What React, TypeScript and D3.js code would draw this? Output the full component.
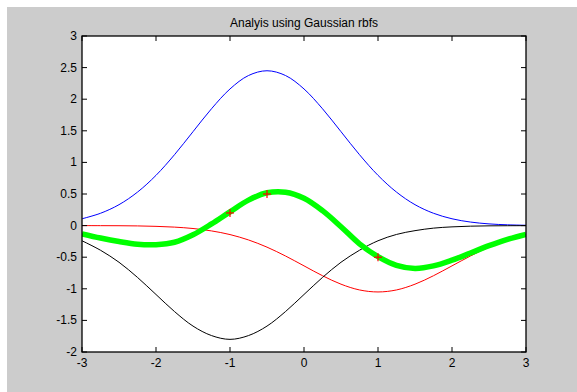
import React from "react";
import * as d3 from "d3";

const xs = [-3, -2.75, -2.5, -2.25, -2, -1.75, -1.5, -1.25, -1, -0.75, -0.5, -0.25, 0, 0.25, 0.5, 0.75, 1, 1.25, 1.5, 1.75, 2, 2.25, 2.5, 2.75, 3];
const blueY = [0.108, 0.195, 0.331, 0.53, 0.795, 1.122, 1.486, 1.849, 2.162, 2.375, 2.45, 2.375, 2.162, 1.849, 1.486, 1.122, 0.795, 0.53, 0.331, 0.195, 0.108, 0.056, 0.027, 0.0125, 0.0054];
const blackY = [-0.24, -0.39, -0.58, -0.82, -1.09, -1.36, -1.59, -1.74, -1.8, -1.74, -1.59, -1.36, -1.09, -0.82, -0.58, -0.39, -0.24, -0.14, -0.08, -0.04, -0.02, -0.009, -0.004, -0.002, -0.001];
const redY = [0, -0.001, -0.002, -0.005, -0.012, -0.024, -0.046, -0.084, -0.142, -0.227, -0.341, -0.481, -0.637, -0.793, -0.927, -1.018, -1.05, -1.018, -0.927, -0.793, -0.637, -0.481, -0.341, -0.227, -0.142];
const greenY = [-0.13, -0.196, -0.252, -0.295, -0.302, -0.264, -0.146, 0.026, 0.218, 0.403, 0.519, 0.529, 0.433, 0.237, -0.017, -0.288, -0.49, -0.628, -0.677, -0.638, -0.547, -0.434, -0.318, -0.217, -0.138];
const pointsX = [-1, -0.5, 1];
const pointsY = [0.2, 0.5, -0.5];
const xTicks = [-3, -2, -1, 0, 1, 2, 3];
const yTicks = [-2, -1.5, -1, -0.5, 0, 0.5, 1, 1.5, 2, 2.5, 3];
const title = "Analyis using Gaussian rbfs";

const W = 577, H = 392;
const L = 82, R = 526, T = 36, B = 352;

export default function App() {
  const x = d3.scaleLinear().domain([-3, 3]).range([L, R]);
  const y = d3.scaleLinear().domain([-2, 3]).range([B, T]);
  const line = (ys: number[]) =>
    d3.line<number>().x((_, i) => x(xs[i])).y((v) => y(v)).curve(d3.curveCatmullRom.alpha(0.5))(ys) || "";
  const font = "'Liberation Sans', Arial, sans-serif";
  const tl = 5;
  return (
    <svg width={W} height={H} style={{ position: "absolute", left: 0, top: 0 }} fontFamily={font}>
      <rect x={0} y={0} width={W} height={H} fill="#ffffff" />
      <rect x={7} y={7} width={W - 7} height={H - 7} fill="#cccccc" />
      <rect x={L} y={T} width={R - L} height={B - T} fill="#ffffff" />
      <defs>
        <clipPath id="clip">
          <rect x={L} y={T} width={R - L} height={B - T} />
        </clipPath>
      </defs>
      <g clipPath="url(#clip)" fill="none">
        <path d={line(blueY)} stroke="#0000ff" strokeWidth={1} />
        <path d={line(redY)} stroke="#ff0000" strokeWidth={1} />
        <path d={line(blackY)} stroke="#000000" strokeWidth={1} />
        <path d={line(greenY)} stroke="#00ff00" strokeWidth={5.5} strokeLinejoin="round" />
      </g>
      {pointsX.map((px, i) => (
        <g key={i} stroke="#ff0000" strokeWidth={1.2}>
          <line x1={x(px) - 4} x2={x(px) + 4} y1={y(pointsY[i])} y2={y(pointsY[i])} />
          <line x1={x(px)} x2={x(px)} y1={y(pointsY[i]) - 4} y2={y(pointsY[i]) + 4} />
        </g>
      ))}
      <rect x={L} y={T} width={R - L} height={B - T} fill="none" stroke="#000" strokeWidth={1.3} />
      {xTicks.map((t) => (
        <g key={"x" + t} stroke="#000" strokeWidth={1}>
          <line x1={x(t)} x2={x(t)} y1={B} y2={B - tl} />
          <line x1={x(t)} x2={x(t)} y1={T} y2={T + tl} />
        </g>
      ))}
      {yTicks.map((t) => (
        <g key={"y" + t} stroke="#000" strokeWidth={1}>
          <line x1={L} x2={L + tl} y1={y(t)} y2={y(t)} />
          <line x1={R} x2={R - tl} y1={y(t)} y2={y(t)} />
        </g>
      ))}
      {xTicks.map((t) => (
        <text key={"xl" + t} x={x(t)} y={B + 15} textAnchor="middle" fontSize={12} fill="#000">
          {String(t)}
        </text>
      ))}
      {yTicks.map((t) => (
        <text key={"yl" + t} x={L - 5} y={y(t) + 4} textAnchor="end" fontSize={12} fill="#000">
          {String(t)}
        </text>
      ))}
      <text x={(L + R) / 2} y={27} textAnchor="middle" fontSize={12} fill="#000">
        {title}
      </text>
    </svg>
  );
}
